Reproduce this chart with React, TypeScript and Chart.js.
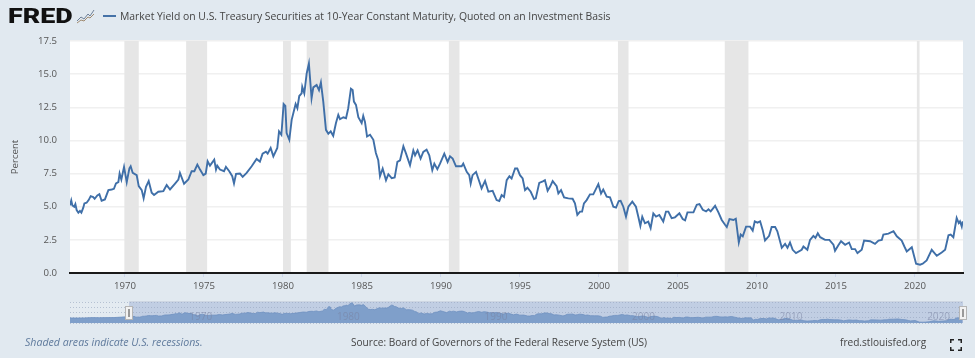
import React, { useEffect, useRef } from "react";
import { Chart, registerables } from "chart.js";

Chart.register(...registerables);

const titleText = "Market Yield on U.S. Treasury Securities at 10-Year Constant Maturity, Quoted on an Investment Basis";
const yAxisLabel = "Percent";
const footerNote = "Shaded areas indicate U.S. recessions.";
const footerSource = "Source: Board of Governors of the Federal Reserve System (US)";
const footerSite = "fred.stlouisfed.org";

const observationYears = [
  1966.52, 1966.6, 1966.67, 1966.79, 1966.86, 1966.94, 1967.05, 1967.15, 1967.24, 1967.36,
  1967.43, 1967.57, 1967.7, 1967.83, 1967.99, 1968.08, 1968.25, 1968.38, 1968.52, 1968.73,
  1968.95, 1969.16, 1969.3, 1969.43, 1969.58, 1969.66, 1969.77, 1969.94, 1970.11, 1970.28,
  1970.36, 1970.49, 1970.74, 1970.87, 1971.06, 1971.18, 1971.33, 1971.5, 1971.69, 1971.84,
  1972.11, 1972.43, 1972.64, 1972.85, 1973.17, 1973.38, 1973.48, 1973.74, 1974.01, 1974.22,
  1974.39, 1974.58, 1974.75, 1974.96, 1975.11, 1975.23, 1975.38, 1975.65, 1975.76, 1975.84,
  1976.01, 1976.27, 1976.39, 1976.6, 1976.79, 1976.9, 1977.03, 1977.28, 1977.45, 1977.7,
  1978.02, 1978.33, 1978.54, 1978.71, 1978.92, 1979.03, 1979.22, 1979.39, 1979.64, 1979.75,
  1979.9, 1980.04, 1980.15, 1980.23, 1980.4, 1980.55, 1980.8, 1980.91, 1981.03, 1981.18,
  1981.22, 1981.35, 1981.5, 1981.64, 1981.81, 1981.92, 1982.13, 1982.28, 1982.4, 1982.55,
  1982.72, 1982.87, 1983.02, 1983.18, 1983.35, 1983.5, 1983.61, 1983.82, 1983.99, 1984.13,
  1984.3, 1984.41, 1984.49, 1984.62, 1984.77, 1984.98, 1985.08, 1985.19, 1985.32, 1985.51,
  1985.72, 1985.88, 1986.03, 1986.14, 1986.31, 1986.52, 1986.67, 1986.88, 1987.07, 1987.24,
  1987.41, 1987.62, 1987.79, 1988.04, 1988.25, 1988.36, 1988.52, 1988.71, 1988.88, 1989.09,
  1989.26, 1989.45, 1989.58, 1989.77, 1989.94, 1990.21, 1990.42, 1990.57, 1990.74, 1990.95,
  1991.31, 1991.41, 1991.63, 1991.79, 1991.88, 1992.0, 1992.22, 1992.36, 1992.57, 1992.79,
  1993.0, 1993.27, 1993.52, 1993.69, 1993.84, 1993.99, 1994.16, 1994.33, 1994.47, 1994.69,
  1994.83, 1995.0, 1995.17, 1995.32, 1995.47, 1995.68, 1995.89, 1996.0, 1996.22, 1996.48,
  1996.58, 1996.75, 1996.9, 1997.07, 1997.32, 1997.43, 1997.6, 1997.79, 1998.06, 1998.33,
  1998.48, 1998.63, 1998.8, 1998.93, 1999.05, 1999.22, 1999.43, 1999.64, 1999.96, 2000.13,
  2000.27, 2000.49, 2000.7, 2000.91, 2001.08, 2001.25, 2001.37, 2001.54, 2001.71, 2001.86,
  2002.11, 2002.34, 2002.49, 2002.62, 2002.74, 2002.91, 2003.12, 2003.27, 2003.44, 2003.61,
  2003.82, 2004.07, 2004.24, 2004.39, 2004.6, 2004.81, 2005.09, 2005.3, 2005.45, 2005.6,
  2005.77, 2005.98, 2006.19, 2006.36, 2006.57, 2006.78, 2006.93, 2007.07, 2007.35, 2007.56,
  2007.77, 2007.98, 2008.09, 2008.26, 2008.51, 2008.66, 2008.85, 2008.97, 2009.1, 2009.31,
  2009.56, 2009.73, 2009.86, 2010.03, 2010.2, 2010.36, 2010.51, 2010.77, 2010.93, 2011.15,
  2011.29, 2011.57, 2011.78, 2011.93, 2012.09, 2012.26, 2012.47, 2012.83, 2012.94, 2013.19,
  2013.36, 2013.57, 2013.7, 2013.85, 2014.0, 2014.31, 2014.58, 2014.84, 2014.94, 2015.15,
  2015.32, 2015.58, 2015.83, 2016.0, 2016.21, 2016.36, 2016.63, 2016.78, 2017.16, 2017.47,
  2017.69, 2017.9, 2018.0, 2018.32, 2018.64, 2018.85, 2019.16, 2019.33, 2019.48, 2019.8,
  2020.07, 2020.32, 2020.49, 2020.74, 2021.06, 2021.38, 2021.69, 2021.91, 2022.12, 2022.26,
  2022.43, 2022.64, 2022.77, 2022.85, 2022.96, 2023.02,
];

const yieldPercent = [
  5.1, 5.48, 5.1, 5.0, 5.2, 4.75, 4.55, 4.68, 4.55, 4.93,
  5.25, 5.3, 5.5, 5.8, 5.73, 5.6, 5.85, 5.95, 5.45, 5.55,
  6.25, 6.3, 6.35, 6.75, 6.85, 7.5, 7.05, 8.0, 6.85, 7.9,
  8.05, 7.55, 7.38, 6.55, 6.25, 5.63, 6.5, 6.93, 6.05, 5.88,
  6.13, 6.18, 6.63, 6.3, 6.75, 7.05, 7.55, 6.73, 7.05, 7.68,
  7.68, 8.18, 7.8, 7.38, 7.5, 8.43, 8.1, 8.55, 7.8, 8.1,
  7.8, 7.68, 8.0, 7.68, 7.3, 6.75, 7.48, 7.5, 7.25, 7.55,
  8.05, 8.6, 8.4, 9.0, 9.15, 9.0, 9.43, 8.8, 9.43, 10.68,
  10.43, 12.75, 12.6, 10.55, 10.05, 11.55, 12.75, 12.43, 13.35, 13.55,
  14.05, 13.55, 15.05, 15.8, 13.18, 14.0, 14.18, 13.8, 14.38, 12.93,
  10.8, 10.5, 10.68, 10.35, 11.3, 11.93, 11.6, 11.75, 11.68, 12.43,
  13.9, 13.8, 12.93, 12.68, 11.75, 11.3, 11.85, 11.4, 10.3, 10.43,
  10.05, 9.05, 8.5, 7.3, 7.88, 7.0, 7.45, 7.15, 7.2, 8.38,
  8.5, 9.55, 9.0, 8.13, 9.25, 8.88, 9.25, 8.63, 9.13, 9.3,
  8.88, 7.75, 8.25, 7.83, 8.25, 9.0, 8.38, 8.8, 8.63, 8.05,
  8.05, 8.25, 7.63, 7.38, 6.75, 7.38, 7.63, 7.13, 6.38, 6.95,
  6.13, 6.2, 5.5, 5.43, 5.88, 5.73, 7.0, 7.3, 7.13, 7.88,
  7.88, 7.38, 7.13, 6.25, 6.43, 6.13, 5.58, 5.63, 6.8, 6.93,
  7.0, 6.2, 6.5, 6.93, 6.55, 6.0, 6.25, 5.7, 5.63, 5.6,
  5.25, 4.38, 4.63, 4.63, 5.25, 5.5, 5.93, 5.93, 6.7, 6.0,
  6.3, 5.75, 5.7, 5.0, 4.93, 5.43, 5.45, 5.0, 4.25, 5.0,
  5.38, 5.0, 4.25, 3.55, 4.25, 3.75, 3.88, 3.38, 4.5, 4.25,
  4.38, 3.88, 4.63, 4.63, 4.13, 4.2, 4.5, 4.07, 3.97, 4.57,
  4.57, 4.57, 5.15, 5.2, 4.77, 4.65, 4.8, 4.65, 5.07, 4.57,
  4.0, 3.64, 3.47, 4.07, 4.0, 4.1, 2.3, 2.9, 2.76, 3.5,
  3.5, 3.2, 3.9, 3.8, 3.9, 3.25, 2.45, 2.8, 3.47, 3.47,
  3.15, 1.9, 2.2, 1.9, 2.3, 1.75, 1.5, 1.75, 2.0, 1.75,
  2.5, 2.8, 2.65, 3.0, 2.7, 2.5, 2.5, 2.13, 1.68, 2.1,
  2.4, 2.13, 2.3, 1.8, 1.8, 1.5, 1.75, 2.45, 2.4, 2.2,
  2.45, 2.5, 2.9, 2.97, 3.15, 2.77, 2.45, 2.0, 1.63, 1.95,
  0.7, 0.63, 0.7, 0.95, 1.75, 1.3, 1.55, 1.75, 2.85, 2.9,
  2.7, 4.15, 3.77, 3.9, 3.5, 3.9,
];

const earlyYears = [1962.5, 1963, 1963.5, 1964, 1964.5, 1965, 1965.5, 1966, 1966.3];
const earlyYields = [3.95, 3.9, 4.0, 4.2, 4.15, 4.2, 4.25, 4.6, 4.8];

const recessionStarts = [1969.96, 1973.87, 1980.0, 1981.5, 1990.5, 2001.2, 2007.96, 2020.12];
const recessionEnds = [1970.87, 1975.2, 1980.5, 1982.88, 1991.17, 2001.87, 2009.46, 2020.29];

const yMin = 0;
const yMax = 17.5;
const yStep = 2.5;
const xMin = 1966.52;
const xMax = 2023.04;
const xStep = 5;
const navMin = 1962.52;
const navTickYears = [1970, 1980, 1990, 2000, 2010, 2020];

const FONT = '"Open Sans", sans-serif';
const PAGE_BG = "#e1e9f0";

const points = observationYears.map((x, i) => ({ x, y: yieldPercent[i] }));
const navPoints = [
  ...earlyYears.map((x, i) => ({ x, y: earlyYields[i] })),
  ...points,
];

const mainPlugin = {
  id: "mainBands",
  beforeDraw(chart: any) {
    const { ctx, chartArea: a } = chart;
    ctx.save();
    ctx.fillStyle = "#ffffff";
    ctx.fillRect(a.left, a.top, a.right - a.left, a.bottom - a.top);
    ctx.restore();
  },
  beforeDatasetsDraw(chart: any) {
    const { ctx, chartArea: a, scales } = chart;
    ctx.save();
    ctx.fillStyle = "#e6e6e6";
    recessionStarts.forEach((s, i) => {
      const x0 = scales.x.getPixelForValue(s);
      const x1 = scales.x.getPixelForValue(recessionEnds[i]);
      ctx.fillRect(x0, a.top, x1 - x0, a.bottom - a.top - 1);
    });
    ctx.restore();
  },
};

const navPlugin = {
  id: "navDecor",
  beforeDraw(chart: any) {
    const { ctx, chartArea: a, scales } = chart;
    const sx = scales.x.getPixelForValue(xMin);
    ctx.save();
    ctx.fillStyle = "#e4ebf1";
    ctx.fillRect(a.left, a.top, sx - a.left, a.bottom - a.top);
    ctx.fillStyle = "#c1cee3";
    ctx.fillRect(sx, a.top, a.right - sx, a.bottom - a.top);
    ctx.fillStyle = "#ced6e2";
    ctx.fillRect(sx, a.top - 1, a.right - sx, 1);
    ctx.restore();
  },
  afterDatasetsDraw(chart: any) {
    const { ctx, chartArea: a, scales } = chart;
    ctx.save();
    ctx.font = `10px ${FONT}`;
    ctx.fillStyle = "rgba(120,130,160,0.55)";
    ctx.textBaseline = "middle";
    navTickYears.forEach((y) => {
      ctx.fillText(String(y), scales.x.getPixelForValue(y) + 9, a.bottom - 6);
    });
    [xMin, xMax].forEach((v) => {
      const cx = Math.round(scales.x.getPixelForValue(v));
      ctx.fillStyle = "#f2f2f2";
      ctx.strokeStyle = "#b5b5b5";
      ctx.fillRect(cx - 3.5, a.top + 4.5, 7, 13);
      ctx.strokeRect(cx - 3.5, a.top + 4.5, 7, 13);
      ctx.fillStyle = "#999";
      ctx.fillRect(cx - 1, a.top + 7, 2, 8);
    });
    ctx.restore();
  },
};

const abs = (left: number, top: number): React.CSSProperties => ({
  position: "absolute",
  left,
  top,
  whiteSpace: "nowrap",
  fontFamily: FONT,
  lineHeight: 1,
});

export default function App() {
  const mainRef = useRef<HTMLCanvasElement>(null);
  const navRef = useRef<HTMLCanvasElement>(null);

  useEffect(() => {
    document.body.style.margin = "0";
    document.body.style.background = PAGE_BG;
    const main = new Chart(mainRef.current!, {
      type: "line",
      data: {
        datasets: [
          {
            data: points,
            borderColor: "#3f6fa8",
            borderWidth: 1.9,
            pointRadius: 0,
            tension: 0,
            fill: false,
          },
        ],
      },
      options: {
        animation: false,
        responsive: false,
        parsing: false,
        layout: { padding: { top: 41, right: 12, left: 0, bottom: 0 } },
        plugins: { legend: { display: false }, tooltip: { enabled: false } },
        scales: {
          x: {
            type: "linear",
            min: xMin,
            max: xMax,
            afterBuildTicks: (s: any) => {
              s.ticks = s.ticks.filter((t: any) => t.value % xStep === 0 && t.value >= xMin && t.value <= xMax);
            },
            afterFit: (s: any) => {
              s.height = 85;
            },
            ticks: {
              stepSize: xStep,
              includeBounds: false,
              autoSkip: false,
              maxRotation: 0,
              padding: 4,
              color: "#555555",
              font: { family: FONT, size: 9.6 },
              callback: (v: any) => String(v),
            },
            grid: { drawOnChartArea: false, drawTicks: true, tickLength: 4, color: "#ccd6eb" },
            border: { color: "#1a1a1a", width: 2 },
          },
          y: {
            min: yMin,
            max: yMax,
            afterFit: (s: any) => {
              s.width = 70;
            },
            ticks: {
              stepSize: yStep,
              padding: 13,
              color: "#555555",
              font: { family: FONT, size: 9.6 },
              callback: (v: any) => Number(v).toFixed(1),
            },
            grid: { color: "#f0f0f0", lineWidth: 1.4, drawTicks: false },
            border: { display: false },
            title: {
              display: true,
              text: yAxisLabel,
              color: "#555555",
              font: { family: FONT, size: 9.6 },
              padding: { top: 10, bottom: 0 },
            },
          },
        },
      },
      plugins: [mainPlugin],
    } as any);

    const nav = new Chart(navRef.current!, {
      type: "line",
      data: {
        datasets: [
          {
            data: navPoints,
            borderColor: "#6f90c0",
            borderWidth: 0.8,
            backgroundColor: "#7f9fca",
            pointRadius: 0,
            tension: 0,
            fill: "origin",
          },
        ],
      },
      options: {
        animation: false,
        responsive: false,
        parsing: false,
        layout: { padding: { top: 7, right: 12, left: 70, bottom: 12 } },
        plugins: { legend: { display: false }, tooltip: { enabled: false } },
        scales: {
          x: { type: "linear", min: navMin, max: xMax, display: false },
          y: {
            min: 0,
            max: 16.4,
            afterFit: (s: any) => {
              s.width = 0;
            },
            ticks: { display: false, stepSize: 4 },
            grid: { color: "rgba(150,165,190,0.6)", drawTicks: false },
            border: { display: false, dash: [1, 2] },
          },
        },
      },
      plugins: [navPlugin],
    } as any);

    return () => {
      main.destroy();
      nav.destroy();
    };
  }, []);

  return (
    <div style={{ position: "relative", width: 975, height: 358, background: PAGE_BG, overflow: "hidden" }}>
      <canvas ref={mainRef} width={975} height={358} style={{ position: "absolute", left: 0, top: 0 }} />
      <canvas ref={navRef} width={975} height={40} style={{ position: "absolute", left: 0, top: 295 }} />

      <div style={{ ...abs(8, 6), fontFamily: "Roboto, sans-serif", fontWeight: 900, fontSize: 21, color: "#111", transformOrigin: "left top", transform: "scaleX(1.28)" }}>
        FRED
      </div>
      <svg width="19" height="17" viewBox="0 0 19 17" style={{ position: "absolute", left: 76, top: 8 }}>
        <polyline points="1,13 5,9 8,11 12,6 14,8 18,2" fill="none" stroke="#6d7f96" strokeWidth="1" />
        <polyline points="1,15 5,12 8,13 12,9 14,10 18,6" fill="none" stroke="#a08a70" strokeWidth="1" />
      </svg>
      <svg width="13" height="3" style={{ position: "absolute", left: 103, top: 15 }}>
        <rect width="13" height="2" y="0" fill="#4572a7" />
      </svg>
      <div style={{ ...abs(120, 11), fontSize: 10.4, color: "#444" }}>{titleText}</div>

      <div style={{ ...abs(25, 337), fontSize: 10.6, fontStyle: "italic", color: "#5f7a9c" }}>{footerNote}</div>
      <div style={{ ...abs(351, 337), fontSize: 10.1, color: "#444" }}>{footerSource}</div>
      <div style={{ ...abs(840, 337), fontSize: 10.1, color: "#444" }}>{footerSite}</div>
      <svg width="12" height="12" viewBox="0 0 12 12" style={{ position: "absolute", left: 950, top: 339 }}>
        <path d="M0.75 4V0.75H4 M8 0.75H11.25V4 M11.25 8V11.25H8 M4 11.25H0.75V8" fill="none" stroke="#222" strokeWidth="1.5" />
      </svg>
    </div>
  );
}
